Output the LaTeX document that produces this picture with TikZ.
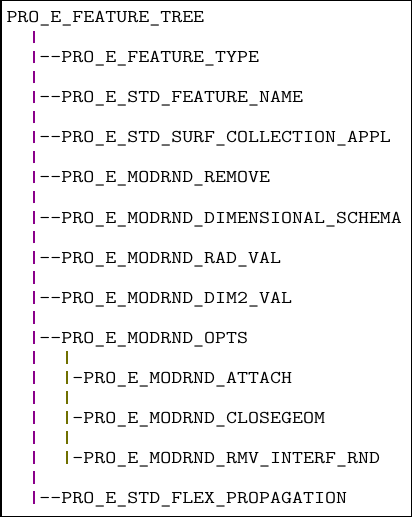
\documentclass[tikz,border=0pt]{standalone}
\usepackage{fontspec}
\usepackage{graphicx}
\definecolor{barA}{HTML}{8A008A}
\definecolor{barB}{HTML}{707000}
\newcommand{\barcell}[1]{\makebox[\fontcharwd\font`x][c]{\textcolor{#1}{\rule[-0.5pt]{1.8pt}{12.5pt}}}}
\newcommand{\oba}{\barcell{barA}}
\newcommand{\obb}{\barcell{barB}}
\newcommand{\blankcell}{\makebox[\fontcharwd\font`x]{}}
\newcommand{\tl}[1]{\scalebox{1.185}[1]{#1}}
\begin{document}
\begin{tikzpicture}[x=1pt,y=1pt,
  ln/.style={anchor=base west, inner sep=0pt, outer sep=0pt, font=\fontsize{18}{20}\selectfont\ttfamily}]
\useasboundingbox (0,0) rectangle (413,-518);
\draw[line width=1.5pt] (0.75,-0.75) rectangle (411.25,-516.25);
\def\X{6.5}
\node[ln] (l0) at (\X,-23) {\tl{PRO\_E\_FEATURE\_TREE}};
\node[ln] (l1) at (\X,-43) {\tl{\blankcell\blankcell\oba}};
\node[ln] (l2) at (\X,-63) {\tl{\blankcell\blankcell\oba-{}-PRO\_E\_FEATURE\_TYPE}};
\node[ln] (l3) at (\X,-83) {\tl{\blankcell\blankcell\oba}};
\node[ln] (l4) at (\X,-103) {\tl{\blankcell\blankcell\oba-{}-PRO\_E\_STD\_FEATURE\_NAME}};
\node[ln] (l5) at (\X,-123) {\tl{\blankcell\blankcell\oba}};
\node[ln] (l6) at (\X,-143) {\tl{\blankcell\blankcell\oba-{}-PRO\_E\_STD\_SURF\_COLLECTION\_APPL}};
\node[ln] (l7) at (\X,-163) {\tl{\blankcell\blankcell\oba}};
\node[ln] (l8) at (\X,-183) {\tl{\blankcell\blankcell\oba-{}-PRO\_E\_MODRND\_REMOVE}};
\node[ln] (l9) at (\X,-203) {\tl{\blankcell\blankcell\oba}};
\node[ln] (l10) at (\X,-223) {\tl{\blankcell\blankcell\oba-{}-PRO\_E\_MODRND\_DIMENSIONAL\_SCHEMA}};
\node[ln] (l11) at (\X,-243) {\tl{\blankcell\blankcell\oba}};
\node[ln] (l12) at (\X,-263) {\tl{\blankcell\blankcell\oba-{}-PRO\_E\_MODRND\_RAD\_VAL}};
\node[ln] (l13) at (\X,-283) {\tl{\blankcell\blankcell\oba}};
\node[ln] (l14) at (\X,-303) {\tl{\blankcell\blankcell\oba-{}-PRO\_E\_MODRND\_DIM2\_VAL}};
\node[ln] (l15) at (\X,-323) {\tl{\blankcell\blankcell\oba}};
\node[ln] (l16) at (\X,-343) {\tl{\blankcell\blankcell\oba-{}-PRO\_E\_MODRND\_OPTS}};
\node[ln] (l17) at (\X,-363) {\tl{\blankcell\blankcell\oba\blankcell\blankcell\obb}};
\node[ln] (l18) at (\X,-383) {\tl{\blankcell\blankcell\oba\blankcell\blankcell\obb-PRO\_E\_MODRND\_ATTACH}};
\node[ln] (l19) at (\X,-403) {\tl{\blankcell\blankcell\oba\blankcell\blankcell\obb}};
\node[ln] (l20) at (\X,-423) {\tl{\blankcell\blankcell\oba\blankcell\blankcell\obb-PRO\_E\_MODRND\_CLOSEGEOM}};
\node[ln] (l21) at (\X,-443) {\tl{\blankcell\blankcell\oba\blankcell\blankcell\obb}};
\node[ln] (l22) at (\X,-463) {\tl{\blankcell\blankcell\oba\blankcell\blankcell\obb-PRO\_E\_MODRND\_RMV\_INTERF\_RND}};
\node[ln] (l23) at (\X,-483) {\tl{\blankcell\blankcell\oba}};
\node[ln] (l24) at (\X,-503) {\tl{\blankcell\blankcell\oba-{}-PRO\_E\_STD\_FLEX\_PROPAGATION}};
\end{tikzpicture}
\end{document}
